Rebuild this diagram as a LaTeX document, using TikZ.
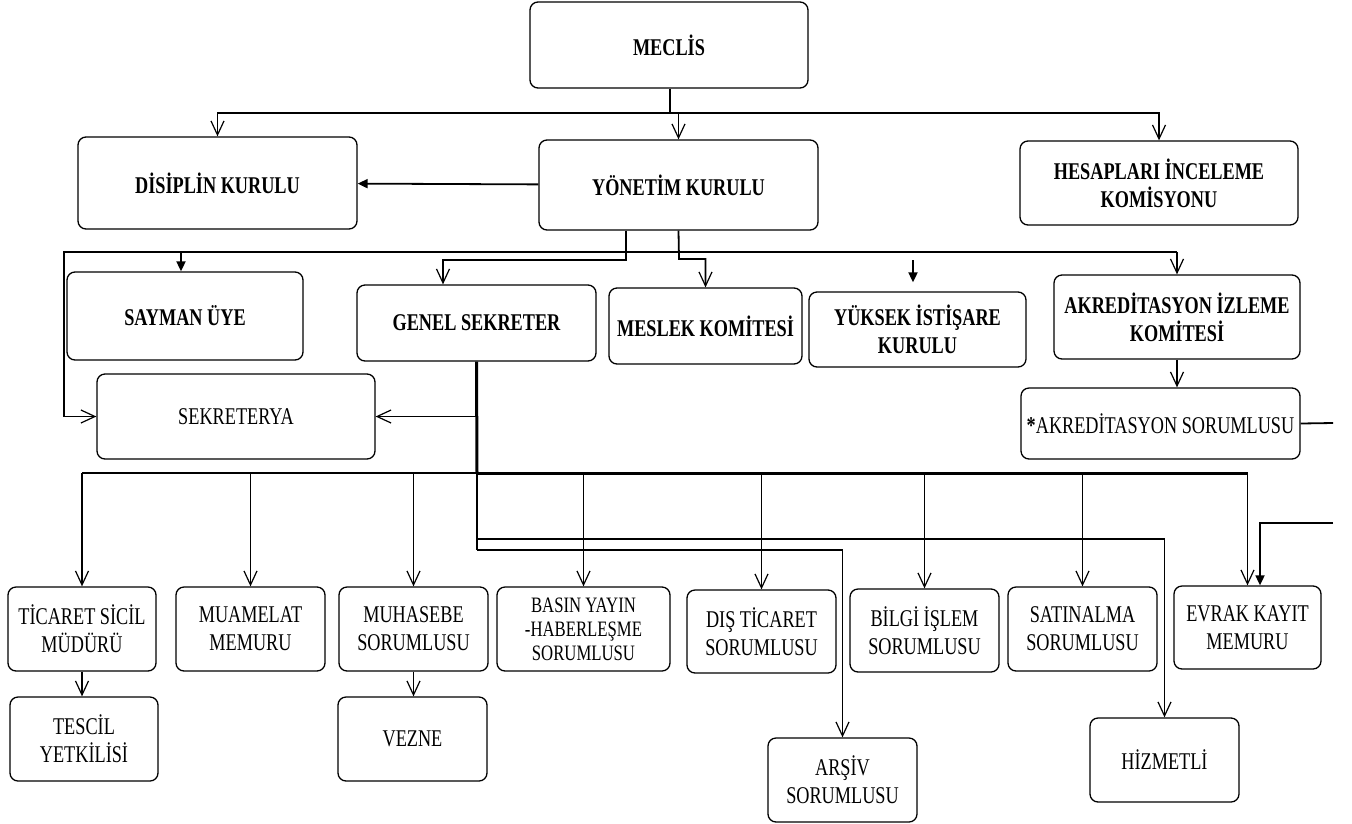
\documentclass[tikz,border=0pt]{standalone}
\usepackage{fontspec}
\setmainfont[FakeStretch=0.76]{Liberation Serif}
\usepackage{tikz}
\usetikzlibrary{arrows.meta}

\begin{document}
\begin{tikzpicture}[x=1pt, y=-1pt,
    box/.style={draw, rounded corners=8pt, line width=1.3pt, align=center, inner sep=2pt, font=\fontsize{24}{28}\selectfont},
    bbox/.style={box, font=\fontsize{24}{28}\selectfont\bfseries},
    link/.style={line width=1.8pt},
    busline/.style={line width=3pt},
    open/.style={link, -{Straight Barb[length=14pt,width=13pt,line width=1.2pt]}},
    farrow/.style={link, -{Triangle[length=10pt,width=9pt]}}]
          \useasboundingbox (0,0) rectangle (1352,823);

          % top levels
          \node[bbox, minimum width=278pt, minimum height=86pt] (meclis) at (669,45) {MECLİS};
          \node[bbox, minimum width=279pt, minimum height=92pt] (disiplin) at (217.5,183) {DİSİPLİN KURULU};
          \node[bbox, minimum width=279pt, minimum height=90pt] (yonetim) at (678.5,185) {YÖNETİM KURULU};
          \node[bbox, minimum width=278pt, minimum height=84pt] (hesap) at (1159,183) {HESAPLARI İNCELEME\\KOMİSYONU};

          \node[bbox, minimum width=236pt, minimum height=88pt] (sayman) at (185,316) {SAYMAN ÜYE};
          \node[bbox, minimum width=239pt, minimum height=76pt] (genel) at (476.5,323) {GENEL SEKRETER};
          \node[bbox, minimum width=193pt, minimum height=76pt] (meslek) at (705.5,326) {MESLEK KOMİTESİ};
          \node[bbox, minimum width=217pt, minimum height=75pt] (yuksek) at (917.5,329.5) {YÜKSEK İSTİŞARE\\KURULU};
          \node[bbox, minimum width=246pt, minimum height=84pt] (akredk) at (1177,317) {AKREDİTASYON İZLEME\\KOMİTESİ};
          \node[box, minimum width=279pt, minimum height=71pt] (akreds) at (1160.5,423.5) {\textbf{*}AKREDİTASYON SORUMLUSU};
          \node[box, minimum width=278pt, minimum height=85pt] (sekreterya) at (236,416.5) {SEKRETERYA};

          % staff row
          \node[box, minimum width=148pt, minimum height=84pt] (ticaret) at (82,629) {TİCARET SİCİL\\MÜDÜRÜ};
          \node[box, minimum width=149pt, minimum height=84pt] (muamelat) at (250.5,629) {MUAMELAT\\MEMURU};
          \node[box, minimum width=149pt, minimum height=84pt] (muhasebe) at (413.5,629) {MUHASEBE\\SORUMLUSU};
          \node[box, minimum width=173pt, minimum height=84pt, font=\fontsize{22}{24}\selectfont] (basin) at (583.5,629) {BASIN YAYIN\\-HABERLEŞME\\SORUMLUSU};
          \node[box, minimum width=149pt, minimum height=83pt] (dis) at (761.5,631.5) {DIŞ TİCARET\\SORUMLUSU};
          \node[box, minimum width=149pt, minimum height=83pt] (bilgi) at (924.5,630.5) {BİLGİ İŞLEM\\SORUMLUSU};
          \node[box, minimum width=149pt, minimum height=84pt] (satin) at (1082.5,629) {SATINALMA\\SORUMLUSU};
          \node[box, minimum width=147pt, minimum height=83pt] (evrak) at (1247.5,627.5) {EVRAK KAYIT\\MEMURU};

          \node[box, minimum width=148pt, minimum height=84pt] (tescil) at (84,739) {TESCİL\\YETKİLİSİ};
          \node[box, minimum width=149pt, minimum height=84pt] (vezne) at (412.5,739) {VEZNE};
          \node[box, minimum width=149pt, minimum height=84pt] (arsiv) at (842.5,780) {ARŞİV\\SORUMLUSU};
          \node[box, minimum width=149pt, minimum height=84pt] (hizmet) at (1164.5,760) {HİZMETLİ};

          % junction points
          \coordinate (m1) at (670,113);
          \coordinate (y1) at (626,260);
          \coordinate (g1) at (443,260);
          \coordinate (y2) at (679,259);
          \coordinate (b1) at (64,252);
          \coordinate (b2) at (1177,252);
          \coordinate (s1) at (181,252);
          \coordinate (k1) at (913,260);
          \coordinate (r1) at (1333,423);
          \coordinate (r2) at (1333,523);
          \coordinate (r3) at (1260,523);
          \coordinate (bus) at (477,473);
          \coordinate (h1) at (477,539);
          \coordinate (a1) at (477,550);

          % meclis level
          \draw[link] (meclis.south -| m1) -- (m1);
          \draw[open] (m1) -| (disiplin);
          \draw[open] (m1) -| (yonetim);
          \draw[open] (m1) -| (hesap);
          \draw[farrow] (yonetim) -- (disiplin);

          % yonetim level
          \draw[open] (yonetim.south -| y1) -- (y1) -- (g1) -- (g1 |- genel.north);
          \draw[open] (yonetim.south) -- (y2) -| (meslek);
          \draw[open] (b2) -- (b1) |- (sekreterya);
          \draw[open] (b2) -- (akredk);
          \draw[farrow] (s1) -- (s1 |- sayman.north);
          \draw[farrow, shorten >=9pt] (k1) -- (k1 |- yuksek.north);
          \draw[open] (akredk.south) -- (akredk.south |- akreds.north);
          \draw[link] (akreds.east) -- (r1);
          \draw[farrow] (r2) -- (r3) -- (r3 |- evrak.north);

          % genel sekreter level
          \draw[busline] (genel.south) -- (bus);
          \draw[open] (genel.south |- sekreterya.east) -- (sekreterya.east);
          \draw[link] (bus -| ticaret) -- (bus);
          \draw[busline] (bus) -- (bus -| evrak);
          \draw[open] (bus -| ticaret) -- (ticaret);
          \draw[open] (bus -| muamelat) -- (muamelat);
          \draw[open] (bus -| muhasebe) -- (muhasebe);
          \draw[open] (bus -| basin) -- (basin);
          \draw[open] (bus -| dis) -- (dis);
          \draw[open] (bus -| bilgi) -- (bilgi);
          \draw[open] (bus -| satin) -- (satin);
          \draw[open] (bus -| evrak) -- (evrak);
          \draw[link] (bus) -- (a1);
          \draw[open] (h1) -| (hizmet);
          \draw[open] (a1) -| (arsiv);
          \draw[open] (ticaret.south) -- (ticaret.south |- tescil.north);
          \draw[open] (muhasebe.south) -- (muhasebe.south |- vezne.north);
      \end{tikzpicture}
\end{document}
